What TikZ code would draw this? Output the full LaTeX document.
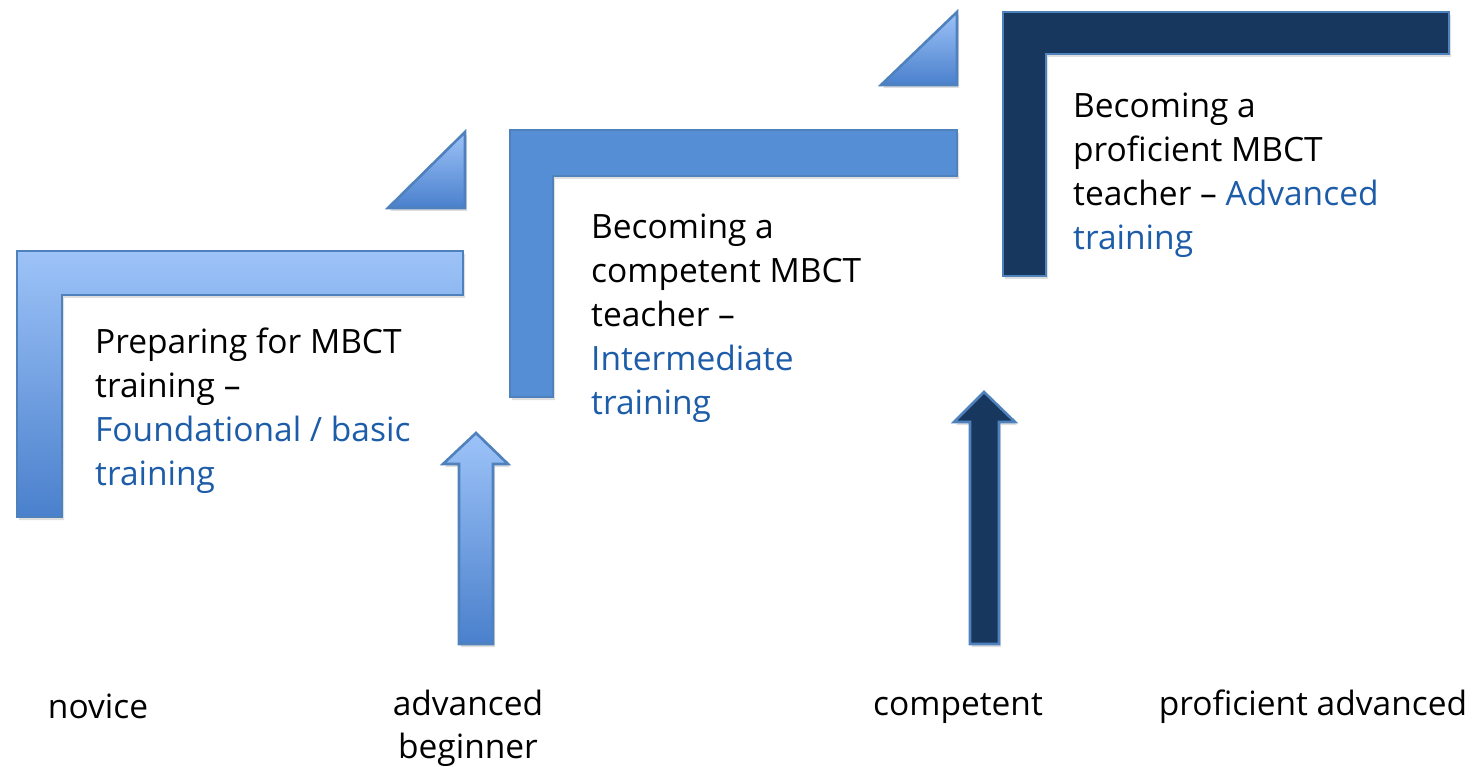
\documentclass[tikz,border=0pt]{standalone}
\usepackage{fontspec}
\setmainfont{Open Sans}
\usetikzlibrary{shadows}
\definecolor{lightT}{HTML}{9DC3F8}
\definecolor{lightB}{HTML}{4A80CC}
\definecolor{midblue}{HTML}{558ED5}
\definecolor{navy}{HTML}{17375E}
\definecolor{edgeblue}{HTML}{4F81BD}
\definecolor{txtblue}{HTML}{1D5CA8}
\begin{document}
\begin{tikzpicture}[x=1pt,y=-1pt,
  shp/.style={draw=edgeblue, line width=2.6pt, line join=miter,
    drop shadow={shadow xshift=2pt, shadow yshift=-3pt, opacity=0.25}},
  gradshp/.style={shp, top color=lightT, bottom color=lightB},
  midshp/.style={shp, fill=midblue},
  navyshp/.style={shp, fill=navy},
  lbl/.style={font=\fontsize{33.5}{44}\selectfont, anchor=base west, inner sep=0pt, align=left, text=black},
  bottomlbl/.style={font=\fontsize{33.5}{43}\selectfont, anchor=base, inner sep=0pt, align=center, text=black}
]
\useasboundingbox (0,0) rectangle (1475,767);

% L shapes
\path[gradshp] (17,251) -- (463,251) -- (463,295) -- (62,295) -- (62,517) -- (17,517) -- cycle;
\path[midshp] (510,130) -- (957,130) -- (957,176) -- (553,176) -- (553,397) -- (510,397) -- cycle;
\path[navyshp] (1003,12) -- (1449,12) -- (1449,54) -- (1046,54) -- (1046,276) -- (1003,276) -- cycle;

% triangles
\path[gradshp] (465,132) -- (465,208) -- (388,208) -- cycle;
\path[gradshp] (957,12) -- (957,85) -- (881,85) -- cycle;

% arrows
\path[gradshp] (476,433) -- (508,464) -- (493,464) -- (493,644) -- (459,644) -- (459,464) -- (443,464) -- cycle;
\path[navyshp] (984,392) -- (1015,422) -- (999,422) -- (999,644) -- (970,644) -- (970,422) -- (954,422) -- cycle;

% texts (base anchor = baseline of last line)
\node[lbl] (t1) at (95,485) {Preparing for MBCT\\training --\\\textcolor{txtblue}{Foundational / basic}\\\textcolor{txtblue}{training}};
\node[lbl] (t2) at (591,414) {Becoming a\\competent MBCT\\teacher --\\\textcolor{txtblue}{Intermediate}\\\textcolor{txtblue}{training}};
\node[lbl] (t3) at (1073,250) {Becoming a\\proficient MBCT\\teacher -- \textcolor{txtblue}{Advanced}\\\textcolor{txtblue}{training}};

\node[bottomlbl] (b1) at (98,718) {novice};
\node[bottomlbl] (b2) at (468,758) {advanced\\beginner};
\node[bottomlbl] (b3) at (958,715) {competent};
\node[bottomlbl] (b4) at (1313,715) {proficient advanced};
\end{tikzpicture}
\end{document}
